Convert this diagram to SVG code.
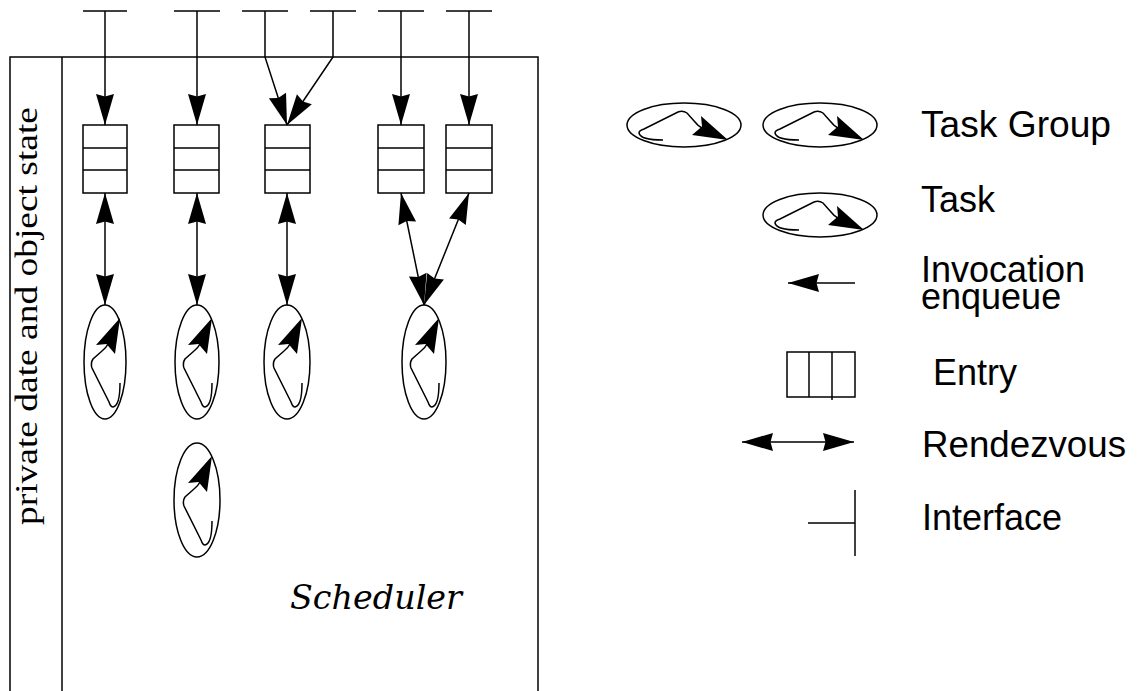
<svg xmlns="http://www.w3.org/2000/svg" width="1138" height="691" viewBox="0 0 1138 691">
  <style>
    .ln { fill: none; stroke: #000; stroke-width: 1.5; }
    .box { fill: #fff; stroke: #000; stroke-width: 1.5; }
    .lbl { font-family: "Liberation Sans", Arial, sans-serif; font-size: 36px; fill: #000; }
    .side { font-family: "Liberation Serif", "Times New Roman", Times, serif; font-size: 31px; fill: #000; }
    .sched { font-family: "DejaVu Serif", serif; font-size: 34px; font-style: italic; fill: #000; }
  </style>
  <defs>
    <marker id="head" viewBox="-32 -10 33 20" refX="0" refY="0" markerWidth="33" markerHeight="20" markerUnits="userSpaceOnUse" orient="auto-start-reverse">
      <path d="M0,0 L-31,-9 L-28.5,0 L-31,9 Z" fill="#000"/>
    </marker>
    <!-- task symbol: a looping arrow drawn inside the task ellipse (vertical orientation) -->
    <g id="taskGlyph">
      <path class="ln" d="M15,21 C15,34 13,44 8,45 C6,45 5,43 4,40 L-13,6 C-14,3 -14,0 -12,-3 L-3,-11 Q1,-14 3,-18"/>
      <path d="M15,-44 L-9,-17 L1.5,-18 L10,-8 Z" fill="#000"/>
    </g>
  </defs>

  <!-- object boundary and private-state strip -->
  <g id="object">
    <rect class="ln" x="10" y="57" width="528" height="660"/>
    <line class="ln" x1="62" y1="57" x2="62" y2="691"/>
    <text class="side" x="37" y="525" textLength="418" lengthAdjust="spacingAndGlyphs" transform="rotate(-90 37 525)">private date and object state</text>
    <text class="sched" x="290" y="609" textLength="172" lengthAdjust="spacingAndGlyphs">Scheduler</text>
  </g>

  <!-- interfaces -->
  <g id="interfaces" class="ln">
    <line x1="83" y1="11" x2="127" y2="11"/>
    <line x1="174" y1="11" x2="220" y2="11"/>
    <line x1="242" y1="11" x2="288" y2="11"/>
    <line x1="310" y1="11" x2="356" y2="11"/>
    <line x1="378" y1="11" x2="424" y2="11"/>
    <line x1="446" y1="11" x2="492" y2="11"/>
  </g>

  <!-- entries -->
  <g id="entry1">
    <rect class="box" x="83" y="125" width="44" height="68"/>
    <line class="ln" x1="83" y1="148" x2="127" y2="148"/>
    <line class="ln" x1="83" y1="170" x2="127" y2="170"/>
  </g>
  <g id="entry2">
    <rect class="box" x="174" y="125" width="45" height="68"/>
    <line class="ln" x1="174" y1="148" x2="219" y2="148"/>
    <line class="ln" x1="174" y1="170" x2="219" y2="170"/>
  </g>
  <g id="entry3">
    <rect class="box" x="265" y="125" width="45" height="68"/>
    <line class="ln" x1="265" y1="148" x2="310" y2="148"/>
    <line class="ln" x1="265" y1="170" x2="310" y2="170"/>
  </g>
  <g id="entry4">
    <rect class="box" x="378" y="125" width="46" height="68"/>
    <line class="ln" x1="378" y1="148" x2="424" y2="148"/>
    <line class="ln" x1="378" y1="170" x2="424" y2="170"/>
  </g>
  <g id="entry5">
    <rect class="box" x="446" y="125" width="46" height="68"/>
    <line class="ln" x1="446" y1="148" x2="492" y2="148"/>
    <line class="ln" x1="446" y1="170" x2="492" y2="170"/>
  </g>

  <!-- tasks -->
  <g id="task1">
    <ellipse class="ln" cx="105" cy="362" rx="21" ry="57"/>
    <use href="#taskGlyph" transform="translate(105 362)"/>
  </g>
  <g id="task2">
    <ellipse class="ln" cx="197" cy="362" rx="22" ry="57"/>
    <use href="#taskGlyph" transform="translate(197 362)"/>
  </g>
  <g id="task3">
    <ellipse class="ln" cx="287" cy="362" rx="23" ry="57"/>
    <use href="#taskGlyph" transform="translate(287 362)"/>
  </g>
  <g id="task4">
    <ellipse class="ln" cx="424" cy="362" rx="22" ry="57"/>
    <use href="#taskGlyph" transform="translate(424 362)"/>
  </g>
  <g id="task5">
    <ellipse class="ln" cx="197" cy="500" rx="23" ry="57"/>
    <use href="#taskGlyph" transform="translate(197 500)"/>
  </g>

  <!-- invocations and rendezvous -->
  <g id="connectors" class="ln">
    <line x1="105" y1="11" x2="105" y2="125" marker-end="url(#head)"/>
    <line x1="197" y1="11" x2="197" y2="125" marker-end="url(#head)"/>
    <polyline points="265,11 265,57 287,125" marker-end="url(#head)"/>
    <polyline points="333,11 333,57 287,125" marker-end="url(#head)"/>
    <line x1="401" y1="11" x2="401" y2="125" marker-end="url(#head)"/>
    <line x1="469" y1="11" x2="469" y2="125" marker-end="url(#head)"/>

    <line x1="105" y1="193" x2="105" y2="305" marker-start="url(#head)" marker-end="url(#head)"/>
    <line x1="197" y1="193" x2="197" y2="305" marker-start="url(#head)" marker-end="url(#head)"/>
    <line x1="287" y1="193" x2="287" y2="305" marker-start="url(#head)" marker-end="url(#head)"/>
    <line x1="401" y1="193" x2="424" y2="305" marker-start="url(#head)" marker-end="url(#head)"/>
    <line x1="469" y1="193" x2="424" y2="305" marker-start="url(#head)" marker-end="url(#head)"/>
  </g>

  <!-- legend -->
  <g id="legend-taskgroup">
    <ellipse class="ln" cx="684" cy="125" rx="57" ry="22"/>
    <use href="#taskGlyph" transform="translate(684 125) rotate(90)"/>
    <ellipse class="ln" cx="820" cy="125" rx="57" ry="22"/>
    <use href="#taskGlyph" transform="translate(820 125) rotate(90)"/>
    <text class="lbl" x="921" y="137" textLength="190" lengthAdjust="spacingAndGlyphs">Task Group</text>
  </g>
  <g id="legend-task">
    <ellipse class="ln" cx="820" cy="215" rx="57" ry="22"/>
    <use href="#taskGlyph" transform="translate(820 215) rotate(90)"/>
    <text class="lbl" x="921" y="212">Task</text>
  </g>
  <g id="legend-invocation">
    <line class="ln" x1="855" y1="283" x2="788" y2="283" marker-end="url(#head)"/>
    <text class="lbl" x="921" y="282">Invocation</text>
    <text class="lbl" x="921" y="309">enqueue</text>
  </g>
  <g id="legend-entry">
    <rect class="box" x="787" y="352" width="68" height="45"/>
    <line class="ln" x1="809" y1="352" x2="809" y2="397"/>
    <line class="ln" x1="832" y1="352" x2="832" y2="400"/>
    <text class="lbl" x="933" y="385">Entry</text>
  </g>
  <g id="legend-rendezvous">
    <line class="ln" x1="742" y1="442" x2="854" y2="442" marker-start="url(#head)" marker-end="url(#head)"/>
    <text class="lbl" x="922" y="457" textLength="204" lengthAdjust="spacingAndGlyphs">Rendezvous</text>
  </g>
  <g id="legend-interface">
    <line class="ln" x1="808" y1="523" x2="855" y2="523"/>
    <line class="ln" x1="855" y1="490" x2="855" y2="556"/>
    <text class="lbl" x="922" y="530">Interface</text>
  </g>
</svg>
